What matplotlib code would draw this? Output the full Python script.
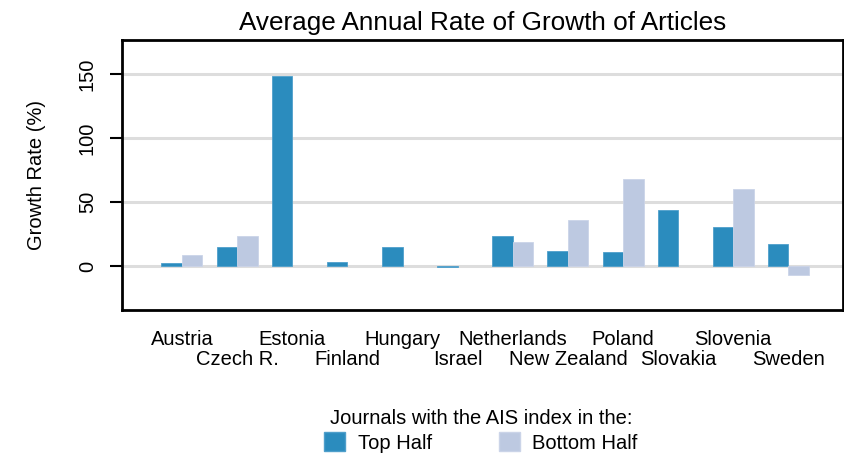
import matplotlib
matplotlib.use("Agg")
import matplotlib.pyplot as plt
import numpy as np
from matplotlib.patches import Patch

countries = ["Austria", "Czech R.", "Estonia", "Finland", "Hungary", "Israel",
             "Netherlands", "New Zealand", "Poland", "Slovakia", "Slovenia", "Sweden"]
top_half = [2.3, 14.6, 148.8, 3.1, 14.6, -1.2, 23.2, 11.7, 11.0, 44.1, 30.8, 17.0]
bottom_half = [8.4, 23.2, np.nan, np.nan, np.nan, np.nan, 18.8, 36.3, 68.4, np.nan, 60.5, -7.0]
yticks = [0, 50, 100, 150]

c_top = "#2B8CBE"
c_bot = "#BDC9E1"

plt.rcParams["font.family"] = ["Liberation Sans", "DejaVu Sans"]
fs = 14.5

fig = plt.figure(figsize=(8.44, 4.59), dpi=100)
ax = fig.add_axes([122/844, 1-310/459, 721/844, 270/459])

x = np.arange(len(countries))
w = 0.372
ax.bar(x - w/2, top_half, width=w, color=c_top, edgecolor="#4f9fcb", linewidth=0.6, zorder=3)
ax.bar(x + w/2, bottom_half, width=w, color=c_bot, edgecolor="#cbd4e8", linewidth=0.6, zorder=3)

ax.set_xlim(-1.088, 11.99)
ax.set_ylim(-34.5, 177)
for yv in yticks:
    ax.axhline(yv, color="#dddddd", linewidth=2.2, zorder=1)

ax.set_yticks(yticks)
ax.set_yticklabels([str(v) for v in yticks], rotation=90, va="center", fontsize=fs)
ax.tick_params(axis="y", length=9, width=1.5, pad=9)
ax.set_xticks([])
for s in ax.spines.values():
    s.set_linewidth(2)
ax.set_ylabel("Growth Rate (%)", fontsize=fs, labelpad=23)

for i, name in enumerate(countries):
    yoff = -0.1296 if i % 2 == 0 else -0.2037
    ax.text(x[i], yoff, name, transform=ax.get_xaxis_transform(), ha="center", va="baseline",
            fontsize=fs)

ax.set_title("Average Annual Rate of Growth of Articles", fontsize=18.8, pad=7)

handles = [Patch(facecolor=c_top, edgecolor="#4f9fcb", label="Top Half"),
           Patch(facecolor=c_bot, edgecolor="#cbd4e8", label="Bottom Half")]
leg = fig.legend(handles=handles, loc="center", bbox_to_anchor=(481/844, 1-431/459),
                 ncol=2, frameon=False, fontsize=fs,
                 title="Journals with the AIS index in the:", title_fontsize=fs,
                 handlelength=1.05, handleheight=1.05, columnspacing=3.3, handletextpad=0.63,
                 borderpad=0.2, labelspacing=0.2)

fig.savefig("out.png", dpi=100)
